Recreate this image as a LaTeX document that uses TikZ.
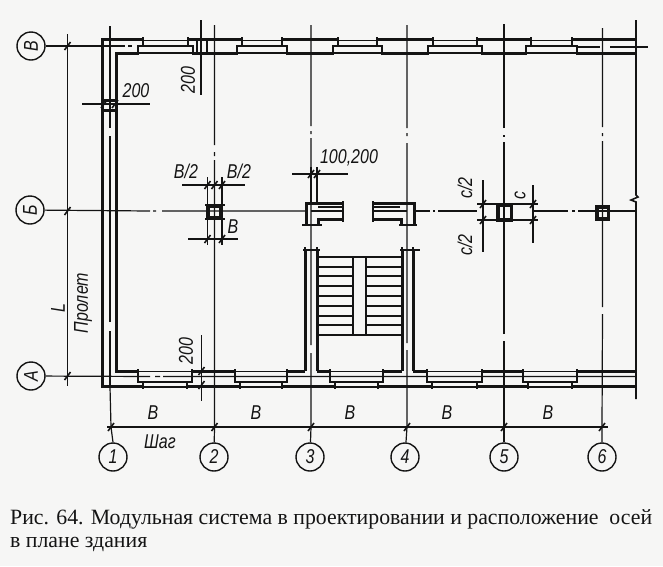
\documentclass[tikz,border=0pt]{standalone}
\usepackage{fontspec}
\setmainfont{Liberation Serif}
\newfontfamily\draftfont[FakeStretch=0.8]{Liberation Sans Italic}
\definecolor{ink}{HTML}{141414}
\definecolor{paper}{HTML}{F6F6F5}
\tikzset{
  thinl/.style={draw=ink,line width=1.2pt},
  medl/.style={draw=ink,line width=1.6pt},
  thickl/.style={draw=ink,line width=3pt},
  colbox/.style={draw=ink,line width=3.2pt},
  axisc/.style={circle,draw=ink,line width=1.4pt,minimum size=28pt,inner sep=0pt,font=\draftfont\fontsize{20}{20}\selectfont,text=ink},
  lab/.style={inner sep=0pt,font=\draftfont\fontsize{20}{20}\selectfont,text=ink},
  capt/.style={inner sep=0pt,anchor=base west,font=\fontsize{21.8}{22}\selectfont,text=ink},
}
\newcommand{\tickm}[2]{\draw[medl] (#1-3,#2+4) -- (#1+3,#2-4);}
\begin{document}
\begin{tikzpicture}[x=1pt,y=-1pt]
\useasboundingbox[fill=paper] (0,0) rectangle (663,566);

% axis bubbles
\node[axisc,rotate=90] (rV) at (31,46) {В};
\node[axisc,rotate=90] (rB) at (30,210) {Б};
\node[axisc,rotate=90] (rA) at (31,376) {А};
\node[axisc] (c1) at (113,457) {1};
\node[axisc] (c2) at (214,457) {2};
\node[axisc] (c3) at (310,457) {3};
\node[axisc] (c4) at (405,457) {4};
\node[axisc] (c5) at (504,457) {5};
\node[axisc] (c6) at (602,457) {6};

\coordinate (d1) at (111,427);
\coordinate (d2) at (214.5,427);
\coordinate (d3) at (311,427);
\coordinate (d4) at (407,427);
\coordinate (d5) at (504,427);
\coordinate (d6) at (602,427);

% vertical axes, with their dash-dot breaks
\draw[thinl] (c1.north) -- (d1) -- (110,387);
\draw[thinl] (110,387) -- (110,331) (110,322) -- (110,136) (110,128) -- (110,26);
\draw[thinl] (c2) -- (d2) -- (214.5,160) (214.5,152) -- (214.5,156) (214.5,145) -- (214.5,25);
\draw[thinl] (c3) -- (d3) -- (311,353) (311,345) -- (311,138) (311,131) -- (311,134) (311,126) -- (311,25);
\draw[thinl] (c4) -- (d4) -- (407,350) (407,343) -- (407,143) (407,133) -- (407,136) (407,128) -- (407,25);
\draw[thinl] (c5) -- (d5) -- (504,341) (504,334) -- (504,142) (504,135) -- (504,137) (504,128) -- (504,24);
\draw[thinl] (c6) -- (d6) -- (602.5,314) (602.5,307) -- (602.5,141) (602.5,133) -- (602.5,136) (602.5,127) -- (602.5,28);

% horizontal axes
\draw[thinl] (rV) -- (125,46) (128,46) -- (132,46);
\draw[thinl] (rB) -- (150,211) (153,211) -- (156,211) (162,211) -- (305,211);
\draw[thinl] (415,211) -- (430,211) (433,211) -- (435,211) (438,211) -- (477,211);
\draw[thinl] (533,211) -- (568,211) (572,211) -- (575,211) (578,211) -- (636,211);
\draw[thinl] (rA) -- (150,376.5) (155,376.5) -- (160,376.5) (163,376.5) -- (635,376.5);
\draw[thinl] (577,47) -- (600,47) (610,47) -- (648,47);

% dimension lines
\draw[thinl] (67.5,34) -- (67.5,386);
\tickm{67.5}{46}\tickm{67.5}{211}\tickm{67.5}{376}
\draw[thinl] (107,427) -- (608,427);
\tickm{111}{427}\tickm{214.5}{427}\tickm{311}{427}\tickm{407}{427}\tickm{504}{427}\tickm{602}{427}

% right break line
\draw[medl] (636,20) -- (636,195) -- (638,197) -- (631,200) -- (636,202) -- (636,399);

% left wall and wall outlines
\draw[thickl] (138,53) -- (116,53) -- (116,371) -- (138,371);
\draw[thickl] (143,39.5) -- (102,39.5) -- (102,386.5) -- (143,386.5);
\foreach \a/\b in {193/237,287/333,382/428,482/526,577/637}{\draw[thickl] (\a,53) -- (\b,53);}
\foreach \a/\b in {188/242,282/338,377/433,477/531,572/637}{\draw[thickl] (\a,39.5) -- (\b,39.5);}
\foreach \a/\b in {192/235,287/305,317/330,383/402,413/427,482/523,577/635}{\draw[thickl] (\a,371) -- (\b,371);}
\foreach \a/\b in {187/240,282/335,378/432,477/528,572/635}{\draw[thickl] (\a,386.5) -- (\b,386.5);}

% window openings, top wall
\foreach \a/\b in {138/193,237/287,333/382,428/482,526/577}{
  \draw[medl] (\a+5,40.5) -- (\b-5,40.5) (\a,53) -- (\b,53) (\a,46) -- (\b,46);
  \draw[medl,line width=2.6pt] (\a,55) -- (\a,46) -- (\a+5,46) -- (\a+5,37);
  \draw[medl,line width=2.6pt] (\b,55) -- (\b,46) -- (\b-5,46) -- (\b-5,37);
}
% window openings, bottom wall
\foreach \a/\b in {138/192,235/287,330/383,427/482,523/577}{
  \draw[medl] (\a,371.5) -- (\b,371.5) (\a+5,387) -- (\b-5,387);
  \draw[thinl] (\a,382) -- (\b,382);
  \draw[medl,line width=2.6pt] (\a,369) -- (\a,382) -- (\a+5,382) -- (\a+5,389);
  \draw[medl,line width=2.6pt] (\b,369) -- (\b,382) -- (\b-5,382) -- (\b-5,389);
}

% dimension 200 marks on the walls
\draw[thinl] (201,20) -- (201,95);
\draw[medl] (207,38) -- (207,55) (197,38) -- (197,55);
\draw[thinl] (201.5,335) -- (201.5,401);
\tickm{201.5}{371}\tickm{201.5}{385}
\draw[thinl] (82,104) -- (150,104);
\draw[thickl] (102,100) -- (116,100) (102,110) -- (116,110);
\tickm{104}{104}\tickm{115}{104}
\node[lab] (t200a) at (136,91) {200};
\node[lab,rotate=90] (t200b) at (188,80) {200};
\node[lab,rotate=90] (t200c) at (186,351) {200};

% column on axis 2
\draw[thinl] (207.5,177) -- (207.5,245) (222,177) -- (222,245);
\draw[thinl] (182,185) -- (245,185) (188,239) -- (238,239);
\tickm{207.5}{185}\tickm{214.5}{185}\tickm{222}{185}\tickm{207.5}{239}\tickm{222}{239}
\draw[colbox] (208,206) rectangle (221,218);
\draw[thinl] (205,205) -- (225,205) (205,219) -- (225,219);
\node[lab] (tb1) at (186,171) {В/2};
\node[lab] (tb2) at (239,171) {В/2};
\node[lab] (tb3) at (233,227) {В};

% stair-well walls
\draw[thickl] (305,371) -- (305,250) (317,371) -- (317,250) (402,371) -- (402,250) (413,371) -- (413,250);
\draw[medl] (303,250) -- (320,250) (400,250) -- (420,250);
\draw[medl] (305,247) -- (305,253) (317,247) -- (317,253) (402,247) -- (402,253) (413,247) -- (413,253);

% interior partitions on axis Б
\draw[thickl] (343,203.5) -- (306,203.5) -- (306,224) (343,219) -- (318,219) -- (318,224);
\draw[medl] (343,201) -- (343,222);
\draw[thinl] (318,207) -- (343,207);
\draw[thinl] (311,211) -- (343,211);
\draw[medl] (302,225) -- (322,225);
\draw[thickl] (373,203.5) -- (414,203.5) -- (414,224) (373,219) -- (401,219) -- (401,224);
\draw[medl] (373,201) -- (373,222);
\draw[thinl] (373,207) -- (400,207);
\draw[thinl] (373,211) -- (407,211);
\draw[medl] (399,225) -- (417,225);

% dimension 100, 200
\draw[thinl] (292,174) -- (348,174);
\draw[thinl] (311,167) -- (311,203) (317,167) -- (317,203);
\tickm{311}{174}\tickm{317}{174}
\node[lab] (t100) at (349,158) {100,200};

% column on axis 5
\draw[thinl] (483,180) -- (483,252) (533,185) -- (533,243);
\draw[thinl] (477,204) -- (538,204) (477,220) -- (538,220);
\tickm{483}{204}\tickm{483}{220}\tickm{533}{204}\tickm{533}{220}
\draw[colbox] (498,205) rectangle (511.5,220);
\node[lab,rotate=90] (tc1) at (465,188) {с/2};
\node[lab,rotate=90] (tc2) at (465,245) {с/2};
\node[lab,rotate=90] (tc3) at (520,195) {с};

% column on axis 6
\draw[draw=ink,line width=3.6pt] (597,207) rectangle (608.5,219);

% staircase
\foreach \y in {267,276,286,296,306,316,325}{\draw[thinl] (317,\y) -- (353,\y) (366,\y) -- (401,\y);}
\draw[thinl] (317,257) -- (401,257) (317,335) -- (401,335);
\draw[thinl] (353,257) -- (353,335) (366,257) -- (366,335);

% labels
\node[lab,rotate=90] (tL) at (58,308) {L};
\node[lab,rotate=90] (tP) at (83,303) {Пролет};
\node[lab] (w1) at (153,413) {В};
\node[lab] (w2) at (256,413) {В};
\node[lab] (w3) at (350,413) {В};
\node[lab] (w4) at (447,413) {В};
\node[lab] (w5) at (548,413) {В};
\node[lab] (tS) at (160,442) {Шаг};

% caption
\node[capt] (cap1) at (10,524) {Рис. 64. Модульная система в проектировании и расположение\ \ осей};
\node[capt] (cap2) at (10,547) {в плане здания};
\end{tikzpicture}
\end{document}
